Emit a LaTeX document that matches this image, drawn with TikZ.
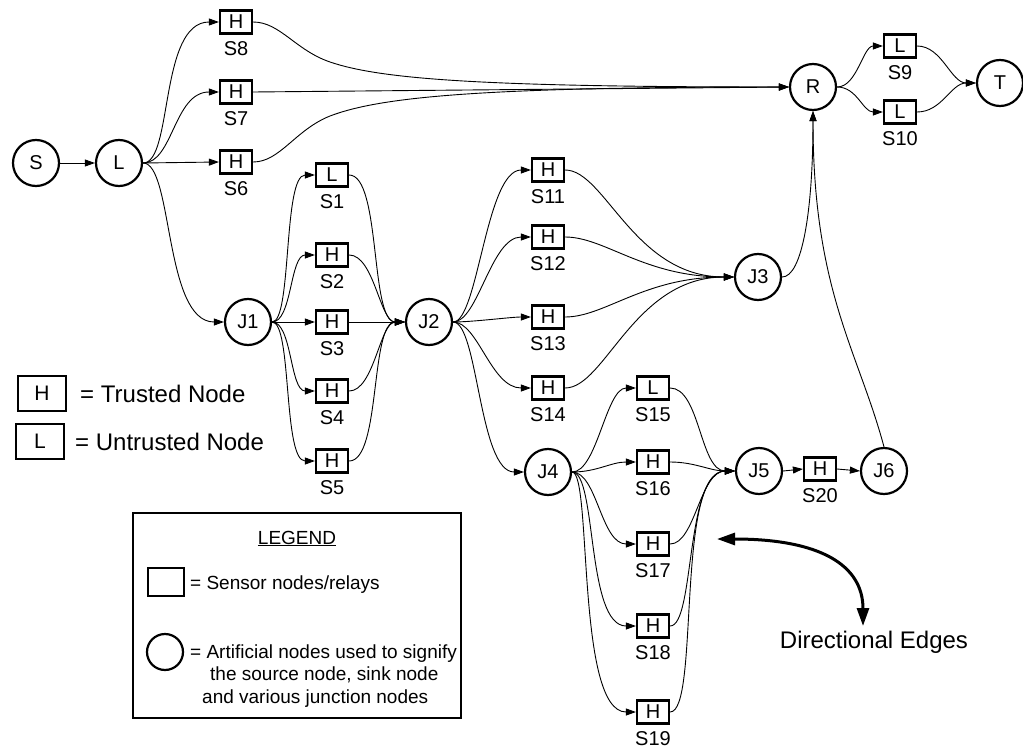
\documentclass[tikz,border=0pt]{standalone}
\usepackage{fontspec}
\setmainfont{Liberation Sans}
\usetikzlibrary{arrows.meta}
\tikzset{
  sbox/.style={draw, line width=2.2pt, minimum width=32pt, minimum height=23pt, inner sep=0pt, font=\fontsize{20}{20}\selectfont},
  jc/.style={draw, circle, line width=2.2pt, minimum size=46pt, inner sep=0pt, font=\fontsize{20}{20}\selectfont},
  lab/.style={inner sep=0pt, font=\fontsize{20}{20}\selectfont},
  edge/.style={line width=0.9pt, -{Triangle[length=10pt,width=7pt]}},
  cv/.style 2 args={out=0, in=180, out distance=#1, in distance=#2},
  lgtxt/.style={inner sep=0pt, anchor=base west, font=\fontsize{24}{24}\selectfont},
  boxtxt/.style={inner sep=0pt, anchor=base west, font=\fontsize{19}{19}\selectfont},
}
\begin{document}
\begin{tikzpicture}[x=1pt,y=1pt]
\useasboundingbox (0,0) rectangle (1023,-752);
% circles
\node[jc] (S) at (36,-163) {S};
\node[jc] (L) at (119,-163) {L};
\node[jc] (J1) at (248,-322) {J1};
\node[jc] (J2) at (429,-322) {J2};
\node[jc] (J3) at (758,-277) {J3};
\node[jc] (R) at (813,-87) {R};
\node[jc] (T) at (1000,-83) {T};
\node[jc] (J4) at (548,-472) {J4};
\node[jc] (J5) at (759,-471) {J5};
\node[jc] (J6) at (884,-471) {J6};
% sensor boxes with labels
\foreach \n/\t/\x/\y in {S8/H/236/22, S7/H/236/92, S6/H/236/162,
  S1/L/332/175, S2/H/332/255, S3/H/332/322, S4/H/332/391, S5/H/332/461,
  S11/H/548/170, S12/H/548/237, S13/H/548/317, S14/H/548/388,
  S9/L/900/46, S10/L/900/112,
  S15/L/653/388, S16/H/653/462, S17/H/653/544, S18/H/653/626, S19/H/653/712,
  S20/H/820/469}{
  \node[sbox] (\n) at (\x,-\y) {\t};
  \node[lab] (\n lab) at (\x,-\y-27) {\n};
}
% edges
\draw[edge] (S.east) -- (L.west);
\draw[edge] (L.east) to[cv={30}{60}] (S8.west);
\draw[edge] (L.east) to[cv={30}{45}] (S7.west);
\draw[edge] (L.east) -- (S6.west);
\draw[edge] (L.east) to[cv={30}{60}] (J1.west);
\draw[edge] (S8.east) .. controls (280,-22) and (295,-50) .. (330,-62)
  .. controls (380,-79) and (480,-87) .. (R.west);
\draw[edge] (S7.east) -- (R.west);
\draw[edge] (S6.east) .. controls (280,-162) and (295,-130) .. (330,-116)
  .. controls (380,-97) and (480,-87) .. (R.west);
\draw[edge] (R.east) to[cv={20}{20}] (S9.west);
\draw[edge] (R.east) to[cv={20}{20}] (S10.west);
\draw[edge] (S9.east) to[cv={25}{25}] (T.west);
\draw[edge] (S10.east) to[cv={25}{25}] (T.west);
% J1 fan
\draw[edge] (J1.east) to[cv={20}{32}] (S1.west);
\draw[edge] (J1.east) to[cv={20}{25}] (S2.west);
\draw[edge] (J1.east) -- (S3.west);
\draw[edge] (J1.east) to[cv={20}{25}] (S4.west);
\draw[edge] (J1.east) to[cv={20}{32}] (S5.west);
\draw[edge] (S1.east) to[cv={32}{35}] (J2.west);
\draw[edge] (S2.east) to[cv={25}{25}] (J2.west);
\draw[edge] (S3.east) -- (J2.west);
\draw[edge] (S4.east) to[cv={25}{25}] (J2.west);
\draw[edge] (S5.east) to[cv={32}{35}] (J2.west);
% J2 fan
\draw[edge] (J2.east) to[cv={25}{45}] (S11.west);
\draw[edge] (J2.east) to[cv={25}{40}] (S12.west);
\draw[edge] (J2.east) to[cv={20}{20}] (S13.west);
\draw[edge] (J2.east) to[cv={25}{40}] (S14.west);
\draw[edge] (J2.east) to[cv={25}{45}] (J4.west);
\draw[edge] (S11.east) to[cv={40}{100}] (J3.west);
\draw[edge] (S12.east) to[cv={40}{90}] (J3.west);
\draw[edge] (S13.east) to[cv={40}{90}] (J3.west);
\draw[edge] (S14.east) to[cv={40}{100}] (J3.west);
\draw[edge] (J3.east) to[out=0, in=-90, out distance=20, in distance=100] (R.south);
\draw[edge] (J6.north) to[out=105, in=-90, out distance=100, in distance=180] (R.south);
% J4 fan
\draw[edge] (J4.east) to[cv={25}{30}] (S15.west);
\draw[edge] (J4.east) to[cv={25}{25}] (S16.west);
\draw[edge] (J4.east) to[cv={25}{35}] (S17.west);
\draw[edge] (J4.east) to[cv={25}{50}] (S18.west);
\draw[edge] (J4.east) to[cv={20}{60}] (S19.west);
\draw[edge] (S15.east) to[cv={30}{35}] (J5.west);
\draw[edge] (S16.east) to[cv={25}{25}] (J5.west);
\draw[edge] (S17.east) to[cv={25}{35}] (J5.west);
\draw[edge] (S18.east) to[cv={25}{50}] (J5.west);
\draw[edge] (S19.east) to[cv={30}{60}] (J5.west);
\draw[edge] (J5.east) -- (S20.west);
\draw[edge] (S20.east) -- (J6.west);
% directional edges pointer
\coordinate (da) at (717,-539);
\coordinate (db) at (863,-626);
\draw[line width=3pt, {Triangle[length=18pt,width=12pt]}-{Triangle[length=18pt,width=12pt]}]
  (da) .. controls (820,-539) and (863,-565) .. (db);
\node[inner sep=0pt, font=\fontsize{24}{24}\selectfont] (dtext) at (874,-642) {Directional Edges};
% trusted/untrusted key
\node[draw, line width=2.2pt, minimum width=48pt, minimum height=35pt, inner sep=0pt, font=\fontsize{21}{21}\selectfont] (kH) at (42,-393.5) {H};
\node[lgtxt] (kHt) at (80,-402) {= Trusted Node};
\node[draw, line width=2.2pt, minimum width=48pt, minimum height=35pt, inner sep=0pt, font=\fontsize{21}{21}\selectfont] (kL) at (40,-441.5) {L};
\node[lgtxt] (kLt) at (75,-450.5) {= Untrusted Node};
% legend box
\node[draw, line width=1.2pt, minimum width=328pt, minimum height=205pt, inner sep=0pt] (lg) at (297,-615.5) {};
\node[inner sep=0pt, anchor=base, font=\fontsize{19}{19}\selectfont] (lgt) at (297,-544) {\underline{LEGEND}};
\node[draw, line width=2.2pt, minimum width=36pt, minimum height=28pt, inner sep=0pt] (lgs) at (166,-582) {};
\node[boxtxt] (lgst) at (190,-589) {= Sensor nodes/relays};
\node[draw, circle, line width=2.2pt, minimum size=36pt, inner sep=0pt] (lgc) at (165,-652) {};
\node[boxtxt] (lgc1) at (190,-658.5) {= Artificial nodes used to signify};
\node[boxtxt] (lgc2) at (210,-680.5) {the source node, sink node};
\node[boxtxt] (lgc3) at (202,-703) {and various junction nodes};
\end{tikzpicture}
\end{document}
